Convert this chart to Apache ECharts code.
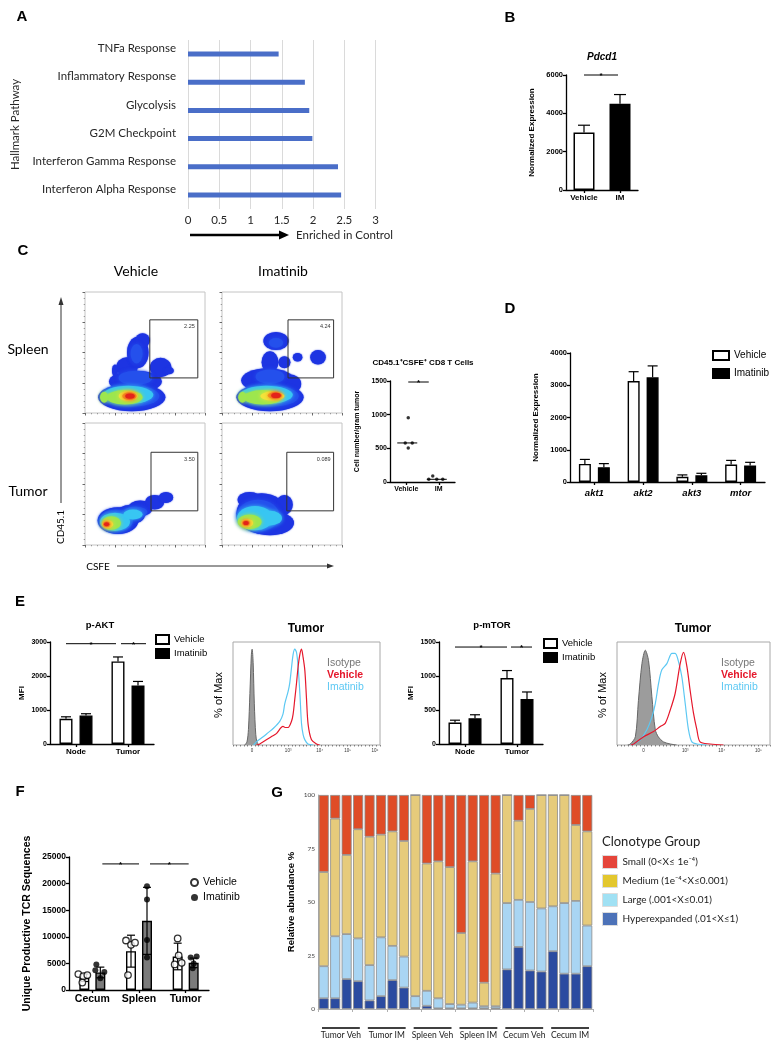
<!DOCTYPE html>
<html><head><meta charset="utf-8">
<script src="https://cdn.jsdelivr.net/npm/echarts@6/dist/echarts.min.js"></script>
<style>html,body{margin:0;padding:0;background:#fff}#c{width:783px;height:1050px}</style>
</head><body><div id="c"></div>
<script>
// ================= DATA =================
// Panel A
const pathways = ['TNFa Response','Inflammatory Response','Glycolysis','G2M Checkpoint','Interferon Gamma Response','Interferon Alpha Response'];
const enrichment = [1.45, 1.87, 1.94, 1.99, 2.40, 2.45];
// Panel B
const pdcd1Groups = ['Vehicle','IM'];
const pdcd1Mean = [3000, 4500];
const pdcd1Err = [380, 480];
// Panel C flow plots (level, cx, cy, rx, ry) in plot units 0-100
const flowVS = [
 [0,39,13,28,11.5],[0,42,26,22,9],[0,35,38,9,8],[0,44,50,9,13],[0,48,60,6,6],[0,25,35,2.5,5],[0,63,37.6,9,8],[0,70,35,4,3],
 [1,38,14,24,9],[1,42,29,14,6],[1,43,49,5,8],
 [2,36,15,21,7.5],[3,33,13,15,6],[3,16,13,3.5,4.5],[4,36,14,8,4],[5,37,14,6,3],[6,37.5,14,4,2.2]
];
const flowIS = [
 [0,40,13,28,11.5],[0,38,27,22,10],[0,56,24,10,8],[0,40,42,7,9],[0,45,59.5,10.5,7.5],[0,52,42,5,5],[0,63,46,4,3.5],[0,80,46,6.5,6],
 [1,40,14,24,9],[1,40,30,12,6],[1,45,58,6,4],
 [2,37,15,22,7.5],[3,34,13,16,6],[3,17,13,3.5,4.5],[4,42,14,10,3.7],[5,44,14.5,6,2.7],[6,45,14.5,4,2.2]
];
const flowVT = [
 [0,27.5,20,17,11],[0,38,25,12,8],[0,46,30,10,6.5],[0,58,35,8,6],[0,67.5,39,6,4.5],
 [1,26,20,14,9],[1,42,27,10,4.5],
 [2,25,19,12.5,7.5],[2,40,25,8,4],[3,22,18,8,5.5],[4,19,17,4.5,3.3],[5,18,17,3,2.3],[6,18,17,2.2,1.7]
];
const flowIT = [
 [0,33,26,21,16.5],[0,23,37,10,6.5],[0,52,33,7,8],[0,40,18,20,10],
 [1,30,24,18,13],
 [2,27.5,22,15,10],[2,40,22,10,6],[3,23,19,10,6],[4,21,18,5,3.3],[5,20,18,3.2,2.3],[6,20,18,2.3,1.7]
];
const gateBoxes = [[54,29,94,77],[55,29,93,77],[55,28,94,76],[54,28,93,76]];
const gateLabels = ['2.25','4.24','3.50','0.089'];
const cellGroups = ['Vehicle','IM'];
const cellVehicle = [955, 580, 580, 505];
const cellIM = [40, 89, 40, 40];
const cellMedian = [580, 40];
// Panel D
const genes = ['akt1','akt2','akt3','mtor'];
const geneVehicle = [560, 3130, 160, 540];
const geneVehicleErr = [140, 290, 60, 130];
const geneImatinib = [460, 3250, 210, 510];
const geneImatinibErr = [110, 350, 60, 100];
// Panel E
const eGroups = ['Node','Tumor'];
const aktVehicle = [740, 2430], aktVehicleErr = [60, 130];
const aktImatinib = [840, 1720], aktImatinibErr = [50, 120];
const mtorVehicle = [315, 970], mtorVehicleErr = [35, 110];
const mtorImatinib = [380, 660], mtorImatinibErr = [50, 105];
const histAktIso = [[8,0],[9.5,3],[10.5,15],[11.5,50],[12.5,88],[13,93],[13.7,80],[14.5,40],[15.5,10],[16.5,2],[18,0]];
const histAktImat = [[14,0],[15.9,3],[20.5,8],[23.9,12],[27.3,16],[31.8,23],[34,30],[35.2,40],[37.5,52],[38.6,60],[39.8,75],[40.9,88],[42,93],[43.2,90],[44.3,76],[45.5,50],[46.6,21],[47.7,10],[48.9,5],[51,1],[54.5,0]];
const histAktVeh = [[16,0],[18.2,1],[22.7,5],[26,8],[29.5,11],[34,18],[35.9,17],[37.5,17],[39.8,23],[40.9,30],[42,44],[43.2,60],[44.3,76],[45.5,88],[46.6,93],[47.7,85],[48.9,72],[50,45],[51.1,20],[53.4,5],[56.8,1],[59,0]];
const histMtorIso = [[7,0],[8.7,1],[12,8],[14,43],[16.3,79],[18.5,92],[20.6,82],[22.8,47],[25,15],[27,8],[30.4,3],[34.8,1],[39,0]];
const histMtorImat = [[9,0],[10.9,1],[15.2,5],[19.6,15],[22.8,27],[25,40],[27.2,60],[29.3,73],[32.6,79],[35.9,89],[38,89],[40.2,81],[42.4,66],[44.6,40],[46.7,15],[48.9,3],[52.2,1],[58.7,0]];
const histMtorVeh = [[9,0],[10.9,1],[17.4,8],[23.9,13],[28.3,18],[31.5,21],[34.8,34],[38,50],[41.3,79],[43.5,90],[45.7,76],[47.8,53],[50,31],[52.2,15],[54.3,3],[60.9,1],[69.6,0]];
const histAktTickPos = [13, 37.5, 59, 78, 96.6];
const histAktTickText = ['0','10³','10⁴','10⁵','10⁶'];
const histMtorTickPos = [17.4, 44.6, 68.5, 92.4];
const histMtorTickText = ['0','10³','10⁴','10⁵'];
// Panel F
const tissues = ['Cecum','Spleen','Tumor'];
const tcrVehicleMean = [2300, 7300, 6300], tcrVehicleSD = [700, 3000, 2500];
const tcrImatinibMean = [3300, 13000, 5100], tcrImatinibSD = [1000, 6300, 900];
const tcrVehiclePts = [[3000,2600,2800,1400],[9300,8500,8900,2800],[9700,6500,4800,5100]];
const tcrImatinibPts = [[4800,3700,3400,2200],[19500,17000,9400,6100],[6100,6300,5000,4100]];
// Panel G
const sampleGroups = ['Tumor Veh','Tumor IM','Spleen Veh','Spleen IM','Cecum Veh','Cecum IM'];
const sampleIds = ['TV1','TV2','TV3','TV4','TI1','TI2','TI3','TI4','SV1','SV2','SV3','SV4','SI1','SI2','SI3','SI4','CV1','CV2','CV3','CV4','CI1','CI2','CI3','CI4'];
const hyper  = [5,5,14,13,4,6,13.5,10,0.5,1.5,0.3,0.3,0.3,0.3,0.3,0.3,18.5,29,18,17.5,27,16.5,16.5,20];
const large  = [15,29,21,20,16.5,27.5,16,14.5,5.5,7,4.7,2,1.7,2.7,1,1,31,22,32,29.5,21,33,34,19];
const medium = [44,55,37,51,60,48,53.5,54,94,59.5,64,64,33.5,66,11,62,50.5,37,43.5,53,52,50.5,35.5,44];
const small  = [36,11,28,16,19.5,18.5,17,21.5,0,32,31,33.7,64.5,31,87.7,36.7,0,12,6.5,0,0,0,14,17];
const clonoNames = ['Small','Medium','Large','Hyperexpanded'];
const clonoLabels = ['Small (0<X≤ 1e⁻⁴)','Medium (1e⁻⁴<X≤0.001)','Large (.001<X≤0.01)','Hyperexpanded (.01<X≤1)'];

// ================= STYLE / HELPERS =================
const PF = '"Liberation Sans", Arial, Helvetica, sans-serif';
const CF = 'Lato, "Open Sans", "DejaVu Sans", sans-serif';
const flowColors = ['#1d34e2','#2450ec','#38c6f2','#9de64e','#f3e33a','#f5931f','#e3231a'];
const grids=[], xAxes=[], yAxes=[], series=[], legends=[], graphics=[];
const addGrid=g=>{grids.push(Object.assign({outerBoundsMode:'none',containLabel:false},g));return grids.length-1;};
const addX=a=>{xAxes.push(a);return xAxes.length-1;};
const addY=a=>{yAxes.push(a);return yAxes.length-1;};
const strip=n=>n.split('|')[0];

function pY(gi,max,interval,name,nameGap,o){o=o||{};return {gridIndex:gi,type:'value',min:0,max,interval,name,nameLocation:'middle',nameGap,nameRotate:90,
 nameTextStyle:{fontFamily:PF,fontWeight:'bold',fontSize:o.nameSize||8,color:'#000'},
 axisLine:{show:true,lineStyle:{color:'#000',width:1.3}},axisTick:{show:true,length:3,lineStyle:{color:'#000',width:1.3}},
 axisLabel:{fontFamily:PF,fontWeight:'bold',fontSize:o.labelSize||7.5,color:'#000',margin:3,formatter:v=>String(v)},splitLine:{show:false}};}
function pX(gi,data,o){o=o||{};return {gridIndex:gi,type:'category',data,axisLine:{show:true,lineStyle:{color:'#000',width:1.3}},
 axisTick:{show:true,alignWithLabel:true,length:3,lineStyle:{color:'#000',width:1.3}},
 axisLabel:{fontFamily:PF,fontWeight:'bold',fontStyle:o.italic?'italic':'normal',fontSize:o.size||8,color:'#000',margin:o.margin||4,interval:0},splitLine:{show:false}};}
function errorSeries(xi,yi,means,errs,dx,cap,both){return {type:'custom',xAxisIndex:xi,yAxisIndex:yi,z:3,silent:true,encode:{x:0,y:1},
 data:means.map((m,i)=>[i,m,errs[i]]),
 renderItem:(p,api)=>{const i=api.value(0),m=api.value(1),e=api.value(2);
  const hi=api.coord([i,m+e]),mid=api.coord([i,m]),lo=api.coord([i,m-e]);const x=hi[0]+dx,st={stroke:'#000',lineWidth:1.2};
  const ch=[{type:'line',shape:{x1:x,y1:both?lo[1]:mid[1],x2:x,y2:hi[1]},style:st},{type:'line',shape:{x1:x-cap,y1:hi[1],x2:x+cap,y2:hi[1]},style:st}];
  if(both)ch.push({type:'line',shape:{x1:x-cap,y1:lo[1],x2:x+cap,y2:lo[1]},style:st});
  return {type:'group',children:ch};}};}
function sigSeries(xi,yi,items,offs){return {type:'custom',xAxisIndex:xi,yAxisIndex:yi,z:5,silent:true,encode:{x:0,y:2},data:items,
 renderItem:(p,api)=>{const k=p.dataIndex,y=api.value(2);const a=api.coord([api.value(0),y]),b=api.coord([api.value(1),y]);
  const x1=a[0]+offs[k][0],x2=b[0]+offs[k][1];
  return {type:'group',children:[{type:'line',shape:{x1,y1:a[1],x2,y2:a[1]},style:{stroke:'#000',lineWidth:1}},
   {type:'text',x:(x1+x2)/2,y:a[1]+1,style:{text:'*',font:'bold 8px '+PF,fill:'#000',align:'center',verticalAlign:'middle',textAlign:'center',textVerticalAlign:'middle'}}]};}};}
function barS(name,xi,yi,data,white,w,gap,fill){return {type:'bar',name,xAxisIndex:xi,yAxisIndex:yi,data,barWidth:w,barGap:gap,silent:true,z:2,
 itemStyle:{color:white?'#fff':(fill||'#000'),borderColor:'#000',borderWidth:1.4}};}
function txt(t,x,y,font,o){o=o||{};graphics.push({type:'text',x,y,rotation:o.rot||0,silent:true,style:{text:t,font,fill:o.fill||'#000',
 align:o.align||'center',verticalAlign:'middle',textAlign:o.align||'center',textVerticalAlign:'middle'}});}

// ================= PANEL A =================
const gA=addGrid({left:188,top:40,width:187.5,height:169});
const xA=addX({gridIndex:gA,type:'value',min:0,max:3,interval:0.5,axisLine:{show:false},axisTick:{show:false},
 splitLine:{show:true,lineStyle:{color:'#dadada',width:1}},axisLabel:{fontFamily:CF,fontSize:11.5,color:'#262626',margin:5}});
const yA=addY({gridIndex:gA,type:'category',data:pathways,inverse:true,axisLine:{show:false},axisTick:{show:false},
 axisLabel:{fontFamily:CF,fontSize:11.5,color:'#262626',margin:12,verticalAlign:'bottom',lineHeight:11},
 name:'Hallmark Pathway',nameLocation:'middle',nameGap:167,nameRotate:90,nameTextStyle:{fontFamily:CF,fontSize:11.5,color:'#262626'}});
series.push({type:'bar',xAxisIndex:xA,yAxisIndex:yA,data:enrichment,barWidth:5,silent:true,itemStyle:{color:'#4a6ec8'}});
graphics.push({type:'line',silent:true,shape:{x1:190,y1:235,x2:281,y2:235},style:{stroke:'#000',lineWidth:2.5}});
graphics.push({type:'polygon',silent:true,shape:{points:[[279,230.5],[289,235],[279,239.5]]},style:{fill:'#000'}});
txt('Enriched in Control',296,235,'11.5px '+CF,{align:'left',fill:'#262626'});

// ================= PANEL B =================
const gB=addGrid({left:566,top:75,width:72,height:115});
const xB=addX(pX(gB,pdcd1Groups,{size:8}));
const yB=addY(pY(gB,6000,2000,'Normalized Expression',30,{nameSize:8}));
series.push({type:'bar',xAxisIndex:xB,yAxisIndex:yB,barWidth:21,silent:true,
 data:pdcd1Mean.map((v,i)=>({value:v,itemStyle:{color:i?'#000':'#fff',borderColor:'#000',borderWidth:1.5}}))});
series.push(errorSeries(xB,yB,pdcd1Mean,pdcd1Err,0,6,false));
series.push(sigSeries(xB,yB,[[0,1,6000]],[[0,-2]]));
txt('Pdcd1',602,57,'italic bold 10px '+PF);

// ================= PANEL C =================
const flowSets=[flowVS,flowIS,flowVT,flowIT];
const flowGrids=[[85,292,120,121],[222,292,120,121],[85,423,120,122],[222,423,120,122]];
flowSets.forEach((blobs,k)=>{
 const g=flowGrids[k];
 const gi=addGrid({left:g[0],top:g[1],width:g[2],height:g[3],show:true,borderColor:'#c4c4c4',borderWidth:1});
 const ax=o=>Object.assign({gridIndex:gi,type:'value',min:0,max:100,interval:25,axisLine:{show:false},splitLine:{show:false},
  axisTick:{show:true,length:2.5,lineStyle:{color:'#444',width:0.8}},minorTick:{show:true,splitNumber:5,length:1.3,lineStyle:{color:'#666',width:0.6}},axisLabel:{show:false}},o);
 const xi=addX(ax({})),yi=addY(ax({}));
 series.push({type:'custom',xAxisIndex:xi,yAxisIndex:yi,silent:true,encode:{x:1,y:2},data:blobs,
  renderItem:(p,api)=>{const lv=api.value(0);const c=api.coord([api.value(1),api.value(2)]);const s=api.size([api.value(3),api.value(4)]);
   return {type:'circle',x:c[0],y:c[1],scaleX:s[0]/s[1],scaleY:1,shape:{cx:0,cy:0,r:s[1]},
    style:{fill:flowColors[lv],shadowBlur:lv?4:1.5,shadowColor:flowColors[lv]}};}});
 series.push({type:'custom',xAxisIndex:xi,yAxisIndex:yi,silent:true,z:4,encode:{x:0,y:1},data:[gateBoxes[k]],
  renderItem:(p,api)=>{const a=api.coord([api.value(0),api.value(3)]),b=api.coord([api.value(2),api.value(1)]);
   return {type:'group',children:[{type:'rect',shape:{x:a[0],y:a[1],width:b[0]-a[0],height:b[1]-a[1]},style:{fill:'none',stroke:'#333',lineWidth:1}},
    {type:'text',x:b[0]-3,y:a[1]+4,style:{text:gateLabels[k],font:'5.5px '+PF,fill:'#333',align:'right',verticalAlign:'top',textAlign:'right',textVerticalAlign:'top'}}]};}});
});
txt('Vehicle',136,271,'14px '+CF);
txt('Imatinib',283,271,'14px '+CF);
txt('Spleen',28,349,'14px '+CF);
txt('Tumor',28,491,'14px '+CF);
graphics.push({type:'line',silent:true,shape:{x1:61,y1:503,x2:61,y2:304},style:{stroke:'#333',lineWidth:1}});
graphics.push({type:'polygon',silent:true,shape:{points:[[58.5,305],[61,297],[63.5,305]]},style:{fill:'#333'}});
txt('CD45.1',61,527,'10px '+CF,{rot:Math.PI/2});
txt('CSFE',98,567,'10px '+CF);
graphics.push({type:'line',silent:true,shape:{x1:117,y1:566,x2:328,y2:566},style:{stroke:'#333',lineWidth:1}});
graphics.push({type:'polygon',silent:true,shape:{points:[[327,563.5],[334,566],[327,568.5]]},style:{fill:'#333'}});

// C scatter
const gC=addGrid({left:390,top:381,width:65,height:101});
const xC=addX(pX(gC,cellGroups,{size:7}));
const yC=addY(pY(gC,1500,500,'Cell number/gram tumor',29,{nameSize:7,labelSize:7}));
const cellJitV=[2,-1,6,2], cellJitI=[-10,-6,-2,4];
series.push({type:'scatter',xAxisIndex:xC,yAxisIndex:yC,symbolSize:3.5,silent:true,itemStyle:{color:'#000'},z:4,
 data:cellVehicle.map((v,j)=>({value:[0,v],symbolOffset:[cellJitV[j],0]})).concat(cellIM.map((v,j)=>({value:[1,v],symbolOffset:[cellJitI[j],0]})))});
const medDx=[1,-2];
series.push({type:'custom',xAxisIndex:xC,yAxisIndex:yC,silent:true,z:5,encode:{x:0,y:1},data:cellMedian.map((v,i)=>[i,v]),
 renderItem:(p,api)=>{const c=api.coord([api.value(0),api.value(1)]);const x=c[0]+medDx[p.dataIndex];
  return {type:'line',shape:{x1:x-10,y1:c[1],x2:x+10,y2:c[1]},style:{stroke:'#000',lineWidth:1}};}});
series.push(sigSeries(xC,yC,[[0,1,1485]],[[2,-10]]));
txt('CD45.1⁺CSFE⁺ CD8 T Cells',423,363,'bold 8px '+PF);

// ================= PANEL D =================
const gD=addGrid({left:570,top:353,width:195,height:129});
const xD=addX(pX(gD,genes,{size:9.5,italic:true,margin:6}));
const yD=addY(pY(gD,4000,1000,'Normalized Expression',30,{nameSize:8}));
series.push(barS('Vehicle|D',xD,yD,geneVehicle,true,12,'58%'));
series.push(barS('Imatinib|D',xD,yD,geneImatinib,false,12,'58%'));
series.push(errorSeries(xD,yD,geneVehicle,geneVehicleErr,-9.5,5,false));
series.push(errorSeries(xD,yD,geneImatinib,geneImatinibErr,9.5,5,false));
legends.push({left:712,top:350,orient:'vertical',icon:'rect',itemWidth:16,itemHeight:9,itemGap:7,padding:0,selectedMode:false,
 data:['Vehicle|D','Imatinib|D'],formatter:strip,textStyle:{fontFamily:PF,fontSize:10,color:'#000'}});

// ================= PANEL E =================
const gE1=addGrid({left:50,top:642,width:104,height:102});
const xE1=addX(pX(gE1,eGroups,{size:8}));
const yE1=addY(pY(gE1,3000,1000,'MFI',24,{nameSize:8,labelSize:7}));
series.push(barS('Vehicle|E1',xE1,yE1,aktVehicle,true,13,'54%'));
series.push(barS('Imatinib|E1',xE1,yE1,aktImatinib,false,13,'54%'));
series.push(errorSeries(xE1,yE1,aktVehicle,aktVehicleErr,-10,5,false));
series.push(errorSeries(xE1,yE1,aktImatinib,aktImatinibErr,10,5,false));
series.push(sigSeries(xE1,yE1,[[0,1,2950],[1,1,2950]],[[-10,-12],[-7,18]]));
legends.push({left:155,top:634,orient:'vertical',icon:'rect',itemWidth:13,itemHeight:9,itemGap:3,padding:0,selectedMode:false,
 data:['Vehicle|E1','Imatinib|E1'],formatter:strip,textStyle:{fontFamily:PF,fontSize:9.5,color:'#000'}});
txt('p-AKT',100,625,'bold 9.5px '+PF);

const gE2=addGrid({left:439,top:642,width:104,height:102});
const xE2=addX(pX(gE2,eGroups,{size:8}));
const yE2=addY(pY(gE2,1500,500,'MFI',24,{nameSize:8,labelSize:7}));
series.push(barS('Vehicle|E2',xE2,yE2,mtorVehicle,true,13,'54%'));
series.push(barS('Imatinib|E2',xE2,yE2,mtorImatinib,false,13,'54%'));
series.push(errorSeries(xE2,yE2,mtorVehicle,mtorVehicleErr,-10,5,false));
series.push(errorSeries(xE2,yE2,mtorImatinib,mtorImatinibErr,10,5,false));
series.push(sigSeries(xE2,yE2,[[0,1,1426],[1,1,1426]],[[-10,-10],[-6,15]]));
legends.push({left:543,top:638,orient:'vertical',icon:'rect',itemWidth:13,itemHeight:9,itemGap:3,padding:0,selectedMode:false,
 data:['Vehicle|E2','Imatinib|E2'],formatter:strip,textStyle:{fontFamily:PF,fontSize:9.5,color:'#000'}});
txt('p-mTOR',492,625,'bold 9.5px '+PF);

function histPanel(left,width,pos,labels,iso,imat,veh,lx,tx){
 const gi=addGrid({left,top:642,width,height:103,show:true,borderColor:'#a8a8a8',borderWidth:1});
 const xi=addX({gridIndex:gi,type:'value',min:0,max:100,interval:2.5,axisLine:{show:false},splitLine:{show:false},
  axisTick:{show:true,length:1.5,lineStyle:{color:'#555',width:0.7}},
  axisLabel:{customValues:pos,formatter:v=>{const i=pos.indexOf(v);return i>=0?labels[i]:'';},fontFamily:PF,fontSize:4.5,color:'#333',margin:3}});
 const yi=addY({gridIndex:gi,type:'value',min:0,max:100,show:false});
 series.push({type:'line',xAxisIndex:xi,yAxisIndex:yi,data:iso,symbol:'none',smooth:0.3,silent:true,lineStyle:{color:'#666',width:1},areaStyle:{color:'#9c9c9c',opacity:1}});
 series.push({type:'line',xAxisIndex:xi,yAxisIndex:yi,data:imat,symbol:'none',smooth:0.3,silent:true,lineStyle:{color:'#5cc8f3',width:1.2}});
 series.push({type:'line',xAxisIndex:xi,yAxisIndex:yi,data:veh,symbol:'none',smooth:0.3,silent:true,lineStyle:{color:'#e5182c',width:1.2}});
 txt('Tumor',tx,629,'bold 12px '+PF);
 txt('% of Max',left-14,695,'11px '+PF,{rot:Math.PI/2});
 txt('Isotype',lx,663,'10.5px '+PF,{align:'left',fill:'#777'});
 txt('Vehicle',lx,675,'bold 10.5px '+PF,{align:'left',fill:'#e5182c'});
 txt('Imatinib',lx,687,'10.5px '+PF,{align:'left',fill:'#5cc8f3'});
}
histPanel(233,147,histAktTickPos,histAktTickText,histAktIso,histAktImat,histAktVeh,327,306);
histPanel(617,153,histMtorTickPos,histMtorTickText,histMtorIso,histMtorImat,histMtorVeh,721,693);

// ================= PANEL F =================
const gF=addGrid({left:69,top:857,width:140,height:133});
const xF=addX(pX(gF,tissues,{size:10.5,margin:4}));
const yF=addY(pY(gF,25000,5000,'Unique Productive TCR Sequences',36,{nameSize:10.5,labelSize:8.5}));
series.push(barS('VehBarF',xF,yF,tcrVehicleMean,true,10,'60%'));
series.push(barS('ImaBarF',xF,yF,tcrImatinibMean,false,10,'60%','#7b7b7b'));
series.push(errorSeries(xF,yF,tcrVehicleMean,tcrVehicleSD,-8,4,true));
series.push(errorSeries(xF,yF,tcrImatinibMean,tcrImatinibSD,8,4,true));
const jitV=[[-6,-1,3,-2],[-5,0,4,-3],[0,1,-3,4]], jitI=[[-4,-5,4,0],[0,0,0,0],[-3,3,0,-1]];
const ptsData=(pts,jit,base)=>pts.flatMap((arr,i)=>arr.map((v,j)=>({value:[i,v],symbolOffset:[base+jit[i][j],0]})));
series.push({type:'scatter',name:'Vehicle|F',xAxisIndex:xF,yAxisIndex:yF,z:4,silent:true,symbol:'circle',symbolSize:6.5,
 itemStyle:{color:'#fff',borderColor:'#000',borderWidth:1.3},data:ptsData(tcrVehiclePts,jitV,-8)});
series.push({type:'scatter',name:'Imatinib|F',xAxisIndex:xF,yAxisIndex:yF,z:4,silent:true,symbol:'circle',symbolSize:6,
 itemStyle:{color:'#000'},data:ptsData(tcrImatinibPts,jitI,8)});
series.push(sigSeries(xF,yF,[[0,1,23700],[1,2,23700]],[[10,0],[11,3]]));
legends.push({left:190,top:877,orient:'vertical',icon:'circle',itemWidth:7,itemHeight:7,itemGap:4,padding:0,selectedMode:false,
 data:['Vehicle|F','Imatinib|F'],formatter:strip,textStyle:{fontFamily:PF,fontSize:10.5,color:'#000'}});

// ================= PANEL G =================
const gG=addGrid({left:318,top:795,width:275,height:214});
const xG=addX({gridIndex:gG,type:'category',data:sampleIds,offset:12,axisLine:{show:true,lineStyle:{color:'#b0b0b0',width:1}},
 axisTick:{show:true,length:3,lineStyle:{color:'#b0b0b0'}},axisLabel:{show:false}});
const xGg=addX({gridIndex:gG,type:'category',data:sampleGroups,offset:19,position:'bottom',axisLine:{show:false},axisTick:{show:false},
 axisLabel:{fontFamily:CF,fontSize:8.5,color:'#222',margin:3,interval:0}});
const yG=addY({gridIndex:gG,type:'value',min:0,max:100,interval:25,name:'Relative abundance %',nameLocation:'middle',nameGap:22,nameRotate:90,
 nameTextStyle:{fontFamily:PF,fontWeight:'bold',fontSize:9.5,color:'#000'},axisLine:{show:true,lineStyle:{color:'#b0b0b0'}},axisTick:{show:false},
 axisLabel:{fontFamily:CF,fontSize:6.5,color:'#444',margin:3},splitLine:{show:false}});
const clonoColors={Hyperexpanded:'#2b4ba0',Large:'#a9d5f3',Medium:'#e6cb7b',Small:'#df4c27'};
[['Hyperexpanded',hyper],['Large',large],['Medium',medium],['Small',small]].forEach(([n,d])=>{
 series.push({type:'bar',name:n,stack:'g',xAxisIndex:xG,yAxisIndex:yG,data:d,barWidth:10,silent:true,
  itemStyle:{color:clonoColors[n],borderColor:'#8c8c8c',borderWidth:0.8}});
});
series.push({type:'custom',xAxisIndex:xGg,yAxisIndex:yG,silent:true,encode:{x:0,y:1},data:sampleGroups.map((g,i)=>[i,0]),
 renderItem:(p,api)=>{const c=api.coord([api.value(0),0]);const w=api.size([1,0])[0];
  return {type:'line',shape:{x1:c[0]-w/2+4,y1:c[1]+19,x2:c[0]+w/2-4,y2:c[1]+19},style:{stroke:'#000',lineWidth:1.5}};}});
const legendSw={Small:'#e5453a',Medium:'#e3c72e',Large:'#a0e1f4',Hyperexpanded:'#4c72b8'};
legends.push({left:602,top:855,orient:'vertical',icon:'rect',itemWidth:15,itemHeight:13,itemGap:5,padding:0,selectedMode:false,
 data:clonoNames.map(n=>({name:n,itemStyle:{color:legendSw[n],borderColor:'#dddddd',borderWidth:1}})),
 formatter:n=>clonoLabels[clonoNames.indexOf(n)],textStyle:{fontFamily:CF,fontSize:10,color:'#222'}});
txt('Clonotype Group',602,842,'13px '+CF,{align:'left',fill:'#222'});

// ================= PANEL LETTERS =================
[['A',22,17],['B',510,18],['C',23,251],['D',510,309],['E',20,602],['F',20,792],['G',277,793]].forEach(([t,x,y])=>txt(t,x,y,'bold 15px '+PF));

const chart=echarts.init(document.getElementById('c'),null,{renderer:'canvas'});
chart.setOption({animation:false,backgroundColor:'#fff',textStyle:{fontFamily:PF},
 grid:grids,xAxis:xAxes,yAxis:yAxes,series,legend:legends,graphic:{elements:graphics}});
</script></body></html>
